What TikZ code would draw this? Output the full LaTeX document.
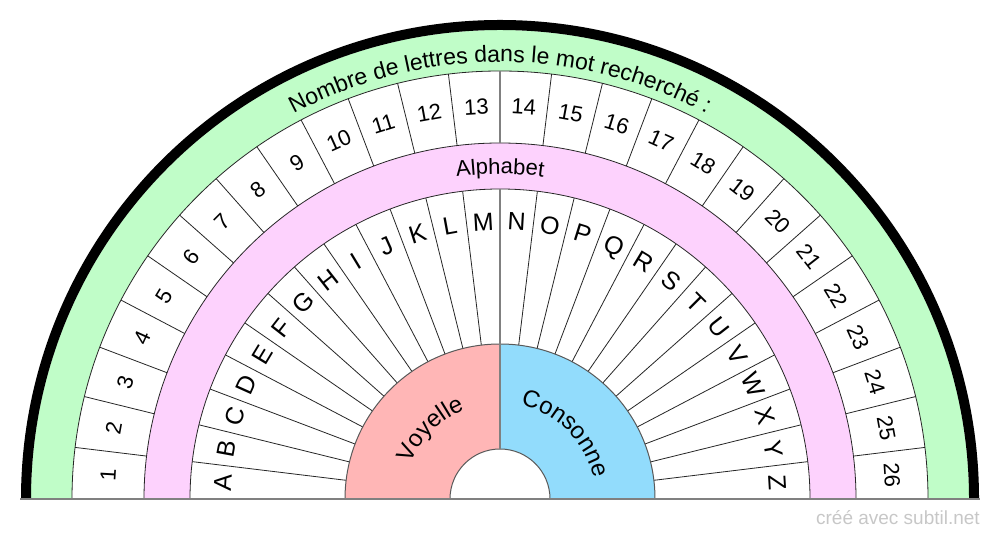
\documentclass[tikz,border=0pt]{standalone}
\usepackage{fontspec}
\setmainfont{Liberation Sans}
\usetikzlibrary{decorations.text}
\definecolor{bandgreen}{RGB}{192,253,200}
\definecolor{bandpink}{RGB}{253,210,253}
\definecolor{voyred}{RGB}{255,182,182}
\definecolor{conblue}{RGB}{146,220,252}
\definecolor{axisgray}{RGB}{128,128,128}
\begin{document}
\begin{tikzpicture}[x=1pt,y=1pt,
  cellline/.style={draw=black!85, line width=0.8pt},
  innerline/.style={draw=black!65, line width=1pt},
  axisline/.style={draw=axisgray, line width=1.6pt},
  numlabel/.style={font=\fontsize{22}{22}\selectfont, text height=15.8pt, text depth=0pt, inner sep=0pt},
  letlabel/.style={font=\fontsize{25}{25}\selectfont, text height=17.9pt, text depth=0pt, inner sep=0pt},
  curvetext/.style={decorate, decoration={text along path, text align=center, text={#1}}}
]
\useasboundingbox (0,0) rectangle (1000,540);
\coordinate (C) at (500,41);
\coordinate (bl) at (20,41);
\coordinate (br) at (980,41);

% filled bands
\fill[bandgreen] (C) ++(0:469pt) arc[start angle=0,end angle=180,radius=469pt] -- cycle;
\fill[white] (C) ++(0:428pt) arc[start angle=0,end angle=180,radius=428pt] -- cycle;
\fill[bandpink] (C) ++(0:356pt) arc[start angle=0,end angle=180,radius=356pt] -- cycle;
\fill[white] (C) ++(0:310pt) arc[start angle=0,end angle=180,radius=310pt] -- cycle;
\fill[voyred] (C) -- ++(90:155pt) arc[start angle=90,end angle=180,radius=155pt] -- cycle;
\fill[conblue] (C) -- ++(0:155pt) arc[start angle=0,end angle=90,radius=155pt] -- cycle;
\fill[white] (C) ++(0:50pt) arc[start angle=0,end angle=180,radius=50pt] -- cycle;

% radial cell lines
\foreach \k in {1,...,25} {
  \pgfmathsetmacro\a{180-\k*180/26}
  \draw[cellline] ([shift={(\a:356pt)}]C) -- ([shift={(\a:428pt)}]C);
  \draw[cellline] ([shift={(\a:155pt)}]C) -- ([shift={(\a:310pt)}]C);
}
% arcs
\foreach \r in {428,356,310} {
  \draw[cellline] (C) ++(0:\r pt) arc[start angle=0,end angle=180,radius=\r pt];
}
\draw[innerline] (C) ++(0:155pt) arc[start angle=0,end angle=180,radius=155pt];
\draw[innerline] (C) ++(0:50pt) arc[start angle=0,end angle=180,radius=50pt];

% outer black arc
\draw[line width=10pt] (C) ++(0:474pt) arc[start angle=0,end angle=180,radius=474pt];

% axis lines
\draw[axisline] ([shift={(90:50pt)}]C) -- ([shift={(90:310pt)}]C);
\draw[axisline] ([shift={(90:356pt)}]C) -- ([shift={(90:428pt)}]C);
\draw[axisline] (bl) -- (br);

% numbers
\foreach \k in {1,...,26} {
  \pgfmathsetmacro\a{180-(\k-0.5)*180/26}
  \node[numlabel, rotate=\a-90] (n\k) at ([shift={(\a:393pt)}]C) {\k};
}
% letters
\foreach \L [count=\k] in {A,B,C,D,E,F,G,H,I,J,K,L,M,N,O,P,Q,R,S,T,U,V,W,X,Y,Z} {
  \pgfmathsetmacro\a{180-(\k-0.5)*180/26}
  \node[letlabel, rotate=\a-90] (l\k) at ([shift={(\a:278pt)}]C) {\L};
}

% curved texts
\path[curvetext={|\fontsize{23}{23}\selectfont|Nombre de lettres dans le mot recherché :}]
  (C) ++(150:437pt) arc[start angle=150,end angle=30,radius=437pt];
\path[curvetext={|\fontsize{22}{22}\selectfont|Alphabet}]
  (C) ++(130:325pt) arc[start angle=130,end angle=50,radius=325pt];
\path[curvetext={|\fontsize{24}{24}\selectfont|Voyelle}]
  (C) ++(180:96pt) arc[start angle=180,end angle=90,radius=96pt];
\path[curvetext={|\fontsize{24}{24}\selectfont|Consonne}]
  (C) ++(90:96pt) arc[start angle=90,end angle=0,radius=96pt];

% watermark
\node[anchor=base east, text=black!22, font=\fontsize{19}{19}\selectfont, inner sep=0pt] (wm) at (980,15) {créé avec subtil.net};
\end{tikzpicture}
\end{document}
